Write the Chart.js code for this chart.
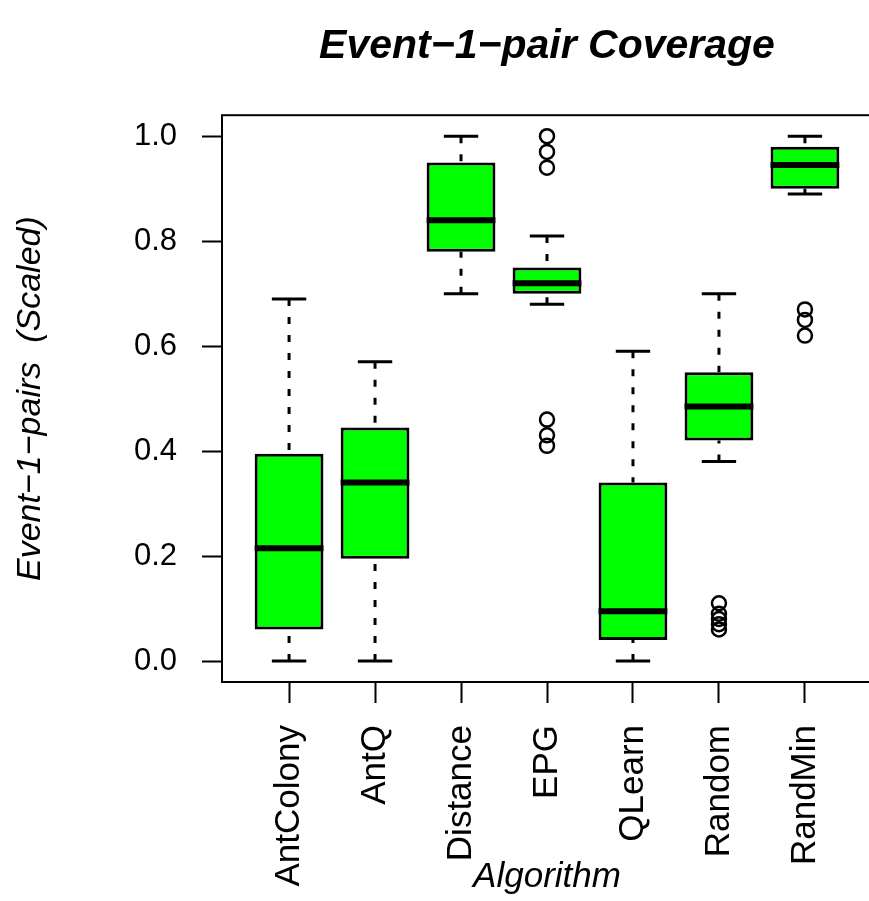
<!DOCTYPE html>
<html lang="en">
<head>
    <meta charset="UTF-8">
    <title>Event-1-pair Coverage</title>
    <script src="https://cdn.jsdelivr.net/npm/chart.js"></script>
    <style>
        html, body { margin: 0; padding: 0; overflow: hidden; background: #fff; }
        canvas { display: block; }
    </style>
</head>
<body>
    <canvas id="boxplot" width="872" height="901"></canvas>

    <script>
        // Values
        const categories = ['AntColony', 'AntQ', 'Distance', 'EPG', 'QLearn', 'Random', 'RandMin'];
        const whiskerLow  = [0.00, 0.00, 0.70, 0.68, 0.00, 0.38, 0.89];
        const quartile1   = [0.06, 0.195, 0.78, 0.70, 0.04, 0.42, 0.90];
        const medians     = [0.215, 0.34, 0.84, 0.72, 0.095, 0.485, 0.945];
        const quartile3   = [0.395, 0.445, 0.95, 0.75, 0.34, 0.55, 0.98];
        const whiskerHigh = [0.69, 0.57, 1.00, 0.81, 0.59, 0.70, 1.00];
        const outliers = [
            [],
            [],
            [],
            [1.00, 0.97, 0.94, 0.46, 0.43, 0.41],
            [],
            [0.11, 0.09, 0.08, 0.07, 0.06],
            [0.67, 0.65, 0.62]
        ];
        const yTicks = [0, 0.2, 0.4, 0.6, 0.8, 1.0];

        const BOX_HALF = 0.4;
        const CAP_HALF = 0.2;
        const FONT = "'Liberation Sans', Arial, Helvetica, sans-serif";

        Chart.defaults.font.family = FONT;
        Chart.defaults.color = '#000';

        // build the point lists for the line datasets
        const whiskerPts = [], capPts = [], medianPts = [], outlierPts = [], boxPts = [];
        categories.forEach(function(name, i) {
            const x = i + 1;
            boxPts.push({ x: x, y: [quartile1[i], quartile3[i]] });
            whiskerPts.push({ x: x, y: whiskerHigh[i] }, { x: x, y: quartile3[i] }, { x: x, y: null });
            whiskerPts.push({ x: x, y: whiskerLow[i] }, { x: x, y: quartile1[i] }, { x: x, y: null });
            capPts.push({ x: x - CAP_HALF, y: whiskerHigh[i] }, { x: x + CAP_HALF, y: whiskerHigh[i] }, { x: x, y: null });
            capPts.push({ x: x - CAP_HALF, y: whiskerLow[i] }, { x: x + CAP_HALF, y: whiskerLow[i] }, { x: x, y: null });
            medianPts.push({ x: x - BOX_HALF, y: medians[i] }, { x: x + BOX_HALF, y: medians[i] }, { x: x, y: null });
            outliers[i].forEach(function(v) { outlierPts.push({ x: x, y: v }); });
        });

        // frame around the plot region, like R's box()
        const frame = {
            id: 'frame',
            afterDraw(chart) {
                const a = chart.chartArea;
                const ctx = chart.ctx;
                ctx.save();
                ctx.strokeStyle = '#000';
                ctx.lineWidth = 2;
                ctx.strokeRect(a.left, a.top, a.right - a.left, a.bottom - a.top);
                ctx.restore();
            }
        };

        new Chart(document.getElementById('boxplot').getContext('2d'), {
            type: 'bar',
            data: {
                datasets: [
                    {
                        type: 'line',
                        data: whiskerPts,
                        borderColor: '#000',
                        borderWidth: 3,
                        borderDash: [7, 11],
                        pointRadius: 0,
                        spanGaps: false,
                        order: 5
                    },
                    {
                        type: 'bar',
                        data: boxPts,
                        backgroundColor: '#00ff00',
                        borderColor: '#000',
                        borderWidth: 3,
                        borderSkipped: false,
                        barPercentage: 1,
                        categoryPercentage: 0.8,
                        order: 4
                    },
                    {
                        type: 'line',
                        data: medianPts,
                        borderColor: '#000',
                        borderWidth: 6,
                        borderCapStyle: 'butt',
                        pointRadius: 0,
                        spanGaps: false,
                        order: 3
                    },
                    {
                        type: 'line',
                        data: capPts,
                        borderColor: '#000',
                        borderWidth: 3,
                        pointRadius: 0,
                        spanGaps: false,
                        order: 2
                    },
                    {
                        type: 'line',
                        data: outlierPts,
                        showLine: false,
                        pointStyle: 'circle',
                        pointRadius: 7,
                        pointBorderWidth: 2.5,
                        pointBorderColor: '#000',
                        pointBackgroundColor: 'rgba(0,0,0,0)',
                        order: 1
                    }
                ]
            },
            options: {
                responsive: false,
                animation: false,
                layout: { padding: 0, autoPadding: false },
                plugins: {
                    legend: { display: false },
                    tooltip: { enabled: false },
                    title: {
                        display: true,
                        fullSize: false,
                        text: 'Event\u22121\u2212pair Coverage',
                        color: '#000',
                        font: { size: 41, weight: 'bold', style: 'italic' },
                        padding: { top: 22, bottom: 44 }
                    }
                },
                scales: {
                    x: {
                        type: 'linear',
                        min: 0.22,
                        max: 7.78,
                        offset: false,
                        afterBuildTicks(axis) {
                            axis.ticks = categories.map(function(c, i) { return { value: i + 1 }; });
                        },
                        afterFit(axis) {
                            axis.height = 219;
                            axis.paddingLeft = 0;
                            axis.paddingRight = 0;
                        },
                        grid: {
                            offset: false,
                            drawOnChartArea: false,
                            drawTicks: true,
                            tickLength: 21,
                            tickWidth: 2,
                            tickColor: '#000'
                        },
                        border: { display: false },
                        ticks: {
                            autoSkip: false,
                            minRotation: 90,
                            maxRotation: 90,
                            padding: 22,
                            font: { size: 35 },
                            callback: function(v) { return categories[v - 1]; }
                        },
                        title: {
                            display: true,
                            text: 'Algorithm',
                            font: { size: 35, style: 'italic' },
                            padding: { top: 0, bottom: 3 }
                        }
                    },
                    y: {
                        type: 'linear',
                        min: -0.04,
                        max: 1.04,
                        afterBuildTicks(axis) {
                            axis.ticks = yTicks.map(function(v) { return { value: v }; });
                        },
                        afterFit(axis) {
                            axis.width = 222;
                            axis.paddingTop = 0;
                            axis.paddingBottom = 0;
                        },
                        grid: {
                            drawOnChartArea: false,
                            drawTicks: true,
                            tickLength: 20,
                            tickWidth: 2,
                            tickColor: '#000'
                        },
                        border: { display: false },
                        ticks: {
                            padding: 25,
                            font: { size: 31 },
                            callback: function(v) { return v.toFixed(1); }
                        },
                        title: {
                            display: true,
                            text: 'Event\u22121\u2212pairs  (Scaled)',
                            font: { size: 34, style: 'italic' },
                            padding: { top: 10, bottom: 0 }
                        }
                    }
                }
            },
            plugins: [frame]
        });
    </script>
</body>
</html>
